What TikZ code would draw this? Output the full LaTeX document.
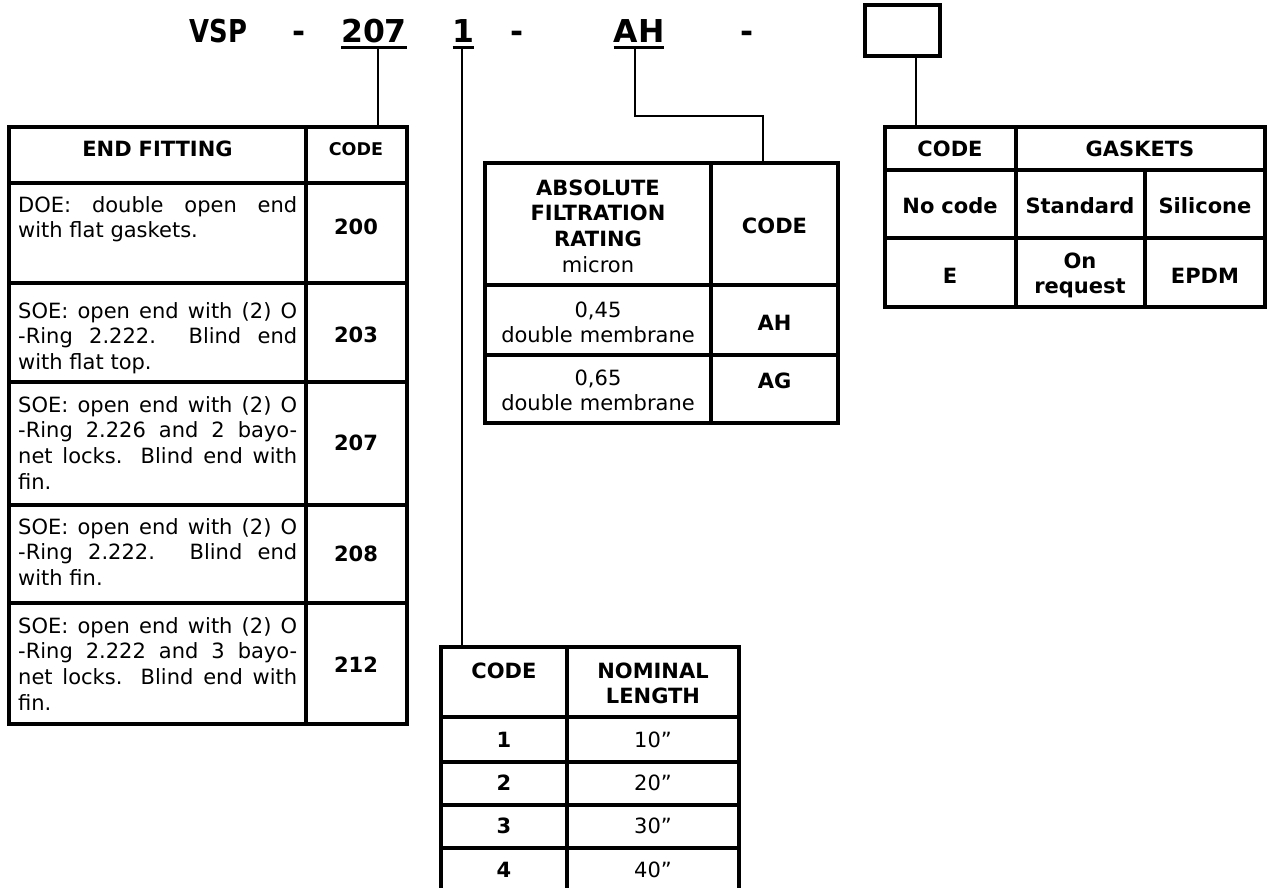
\documentclass[tikz,border=0pt]{standalone}
\usepackage{fontspec}
\setmainfont{DejaVu Sans}
\newfontfamily\vspfont{DejaVu Sans}[FakeStretch=0.82]
\usetikzlibrary{positioning}
\newcommand{\jstset}{\spaceskip=.32em plus 2em minus .05em\relax\tolerance=10000\relax}

\begin{document}
\begin{tikzpicture}[x=1pt, y=-1pt,
    frame/.style={draw, line width=3.2pt, inner sep=0, outer sep=0},
    grid/.style={line width=3.2pt},
    lnk/.style={line width=2.2pt},
    uline/.style={line width=3pt},
    hd/.style={font=\fontsize{31.5}{32}\selectfont\bfseries, inner sep=0, outer sep=0, text depth=5pt, anchor=base},
    txt/.style={font=\fontsize{21}{25}\selectfont, inner sep=0, anchor=base, text width=210pt, align=center},
    bld/.style={txt, font=\fontsize{21}{25.7}\selectfont\bfseries},
    desc/.style={font={\fontsize{21}{25.8}\selectfont\jstset}, inner sep=0, anchor=base west, text width=279pt, align=justify}]
    \useasboundingbox (0,0) rectangle (1268,888);

    % part number
    \node[hd] (hvsp) at (218.5,43) {\vspfont VSP};
    \node[hd] (hdash1) at (299,43) {-};
    \node[hd] (h207) at (374,43) {207};
    \node[hd] (h1) at (463.5,43) {1};
    \node[hd] (hdash2) at (517,43) {-};
    \node[hd] (hah) at (639,43) {AH};
    \node[hd] (hdash3) at (747.5,43) {-};
    \node[frame, minimum width=75, minimum height=51] (hbox) at (902.5,30.5) {};
    \draw[uline] (h207.south west) -- (h207.south east);
    \draw[uline] (h1.south west) -- (h1.south east);
    \draw[uline] (hah.south west) -- (hah.south east);

    % tables
    \node[frame, minimum width=398, minimum height=597] (tfit) at (208,425.5) {};
    \node[frame, minimum width=353, minimum height=260] (trate) at (661.5,293) {};
    \node[frame, minimum width=298, minimum height=244] (tlen) at (590,769) {};
    \node[frame, minimum width=380, minimum height=180] (tgask) at (1075,217) {};

    \draw[grid] (306,127) -- (306,724);
    \foreach \y in {183,283,382,505,603} \draw[grid] (9,\y) -- (407,\y);
    \draw[grid] (711,163) -- (711,423);
    \foreach \y in {285,355} \draw[grid] (485,\y) -- (838,\y);
    \draw[grid] (567,647) -- (567,891);
    \foreach \y in {717,762,805,848} \draw[grid] (441,\y) -- (739,\y);
    \draw[grid] (1016,127) -- (1016,307);
    \draw[grid] (1145,170) -- (1145,307);
    \foreach \y in {170,238} \draw[grid] (885,\y) -- (1265,\y);

    % links
    \draw[lnk] ([xshift=4pt]h207.south) -- ([xshift=4pt]h207.south |- tfit.north);
    \draw[lnk] ([xshift=-1.5pt]h1.south) -- ([xshift=-1.5pt]h1.south |- tlen.north);
    \coordinate (ahbend) at (763,116);
    \draw[lnk] ([xshift=-4pt]hah.south) |- (ahbend) -- (ahbend |- trate.north);
    \draw[lnk] ([xshift=13.5pt]hbox.south) -- ([xshift=13.5pt]hbox.south |- tgask.north);

    % end fitting
    \node[bld, font=\fontsize{21}{26}\selectfont\bfseries] (fitH) at (157.5,157) {END FITTING};
    \node[bld, font=\fontsize{17.5}{20}\selectfont\bfseries] (fitC) at (356,155) {CODE};
    \node[desc] (d200) at (18,212) {DOE: double open end\linebreak with flat gaskets.};
    \node[desc] (d203) at (18,318) {SOE: open end with (2) O\linebreak -Ring 2.222.\ \ Blind end\linebreak with flat top.};
    \node[desc] (d207) at (18,412) {SOE: open end with (2) O\linebreak -Ring 2.226 and 2 bayo-\linebreak net locks. Blind end with\linebreak fin.};
    \node[desc] (d208) at (18,534) {SOE: open end with (2) O\linebreak -Ring 2.222. Blind end\linebreak with fin.};
    \node[desc] (d212) at (18,633) {SOE: open end with (2) O\linebreak -Ring 2.222 and 3 bayo-\linebreak net locks. Blind end with\linebreak fin.};
    \foreach \c/\y in {200/234, 203/342, 207/450, 208/561, 212/672}
        \node[bld] (c\c) at (356,\y) {\c};

    % filtration rating
    \node[bld] (rateH) at (598,195) {ABSOLUTE\\FILTRATION\\RATING\\\mdseries micron};
    \node[bld] (rateC) at (774.5,233) {CODE};
    \node[txt] (r045) at (598,317) {0,45\\double membrane};
    \node[bld] (rAH) at (774.5,330) {AH};
    \node[txt] (r065) at (598,385) {0,65\\double membrane};
    \node[bld] (rAG) at (774.5,388) {AG};

    % nominal length
    \node[bld] (lenC) at (504,678) {CODE};
    \node[bld] (lenH) at (653,678) {NOMINAL\\LENGTH};
    \foreach \n/\y in {1/747, 2/790, 3/833, 4/877} {
        \node[bld] (n\n) at (504,\y) {\n};
        \node[txt] (l\n) at (653,\y) {\n0”};
    }

    % gaskets
    \node[bld] (gC) at (950,157) {CODE};
    \node[bld] (gG) at (1140,157) {GASKETS};
    \node[bld] (gNo) at (950,213) {No code};
    \node[bld] (gStd) at (1080,213) {Standard};
    \node[bld] (gSil) at (1205,213) {Silicone};
    \node[bld] (gE) at (950,283) {E};
    \node[bld] (gOn) at (1080,268) {On\\request};
    \node[bld] (gEp) at (1205,283) {EPDM};
\end{tikzpicture}
\end{document}
